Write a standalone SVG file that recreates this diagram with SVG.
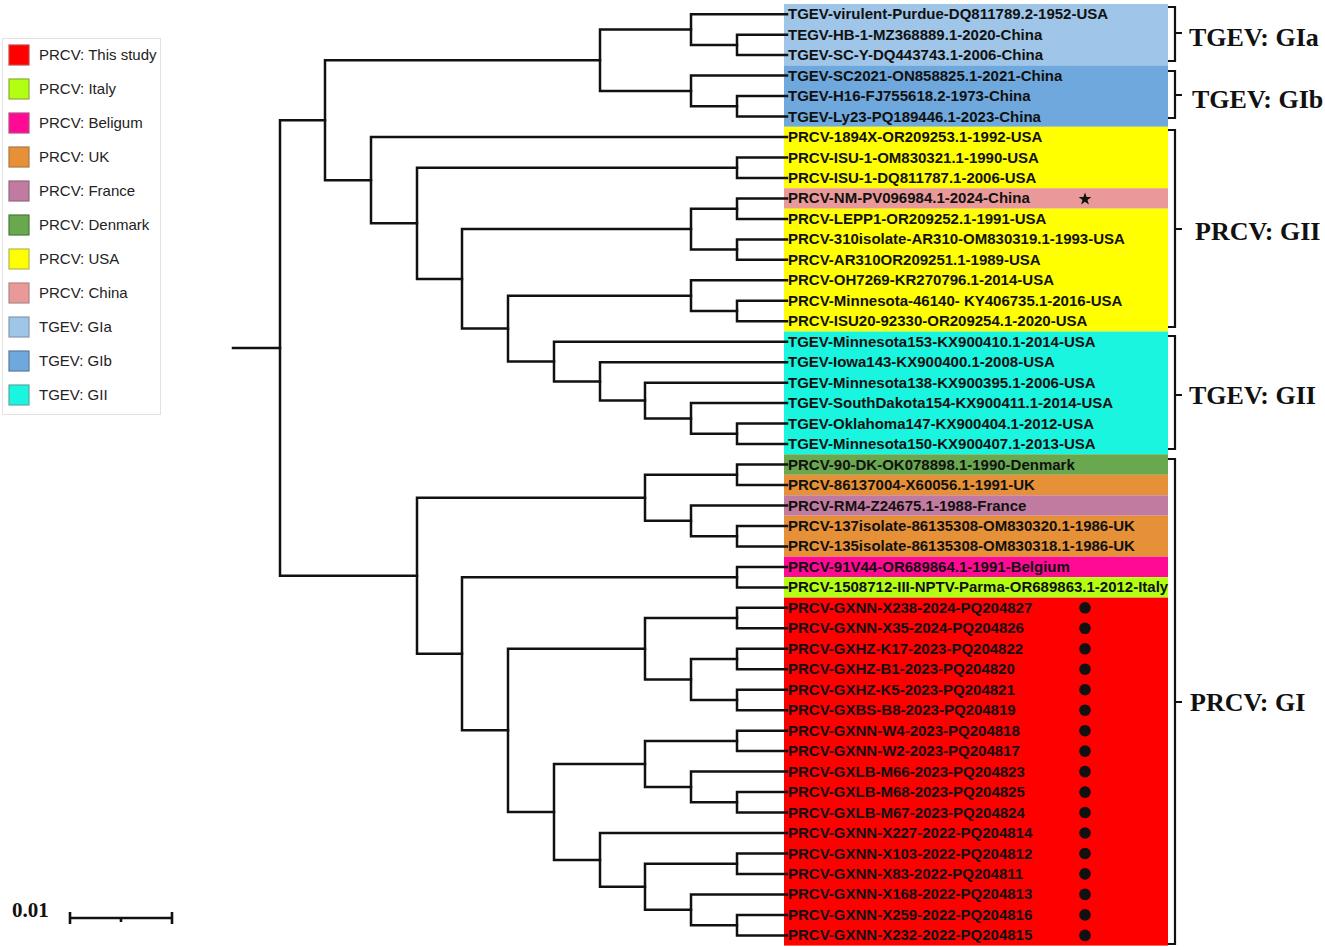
<svg xmlns="http://www.w3.org/2000/svg" width="1325" height="950" viewBox="0 0 1325 950">
<style>
.lbl{font-family:"Liberation Sans",Arial,sans-serif;font-weight:bold;font-size:15px;fill:#111}
.leg{font-family:"Liberation Sans",Arial,sans-serif;font-size:15px;fill:#222}
.grp{font-family:"Liberation Serif","Times New Roman",serif;font-weight:bold;font-size:26px;fill:#111}
.br{fill:none;stroke:#111;stroke-width:2.2}
.tree path{fill:none;stroke:#111;stroke-width:2.5;stroke-linecap:square}
.sw{stroke-width:1.2}
</style>
<rect width="1325" height="950" fill="#fff"/>
<g id="legend">
<rect x="2.5" y="38.5" width="158" height="376" fill="#fff" stroke="#e2e2e2"/>
<rect class="sw" x="9" y="45" width="20" height="20" fill="#ff0000" stroke="#c44"/><text class="leg" x="39" y="60">PRCV: This study</text>
<rect class="sw" x="9" y="79" width="20" height="20" fill="#b3ff14" stroke="#8aab3c"/><text class="leg" x="39" y="94">PRCV: Italy</text>
<rect class="sw" x="9" y="113" width="20" height="20" fill="#ff0a94" stroke="#b84a80"/><text class="leg" x="39" y="128">PRCV: Beligum</text>
<rect class="sw" x="9" y="147" width="20" height="20" fill="#e69138" stroke="#a8774a"/><text class="leg" x="39" y="162">PRCV: UK</text>
<rect class="sw" x="9" y="181" width="20" height="20" fill="#c27ba0" stroke="#8e6a7e"/><text class="leg" x="39" y="196">PRCV: France</text>
<rect class="sw" x="9" y="215" width="20" height="20" fill="#6aa84f" stroke="#4a7a3a"/><text class="leg" x="39" y="230">PRCV: Denmark</text>
<rect class="sw" x="9" y="249" width="20" height="20" fill="#ffff00" stroke="#b5b55a"/><text class="leg" x="39" y="264">PRCV: USA</text>
<rect class="sw" x="9" y="283" width="20" height="20" fill="#ea9999" stroke="#a88"/><text class="leg" x="39" y="298">PRCV: China</text>
<rect class="sw" x="9" y="317" width="20" height="20" fill="#9fc5e8" stroke="#8898a8"/><text class="leg" x="39" y="332">TGEV: GIa</text>
<rect class="sw" x="9" y="351" width="20" height="20" fill="#6fa8dc" stroke="#5a7a98"/><text class="leg" x="39" y="366">TGEV: GIb</text>
<rect class="sw" x="9" y="385" width="20" height="20" fill="#1af5e0" stroke="#5aa8a0"/><text class="leg" x="39" y="400">TGEV: GII</text>
</g>
<g id="bands">
<rect x="784" y="3.97" width="384" height="61.41" fill="#9fc5e8"/>
<rect x="784" y="65.38" width="384" height="61.41" fill="#6fa8dc"/>
<rect x="784" y="126.79" width="384" height="61.41" fill="#ffff00"/>
<rect x="784" y="188.2" width="384" height="20.47" fill="#ea9999"/>
<rect x="784" y="208.67" width="384" height="122.82" fill="#ffff00"/>
<rect x="784" y="331.49" width="384" height="122.82" fill="#1af5e0"/>
<rect x="784" y="454.31" width="384" height="20.47" fill="#6aa84f"/>
<rect x="784" y="474.78" width="384" height="20.47" fill="#e69138"/>
<rect x="784" y="495.25" width="384" height="20.47" fill="#c27ba0"/>
<rect x="784" y="515.72" width="384" height="40.94" fill="#e69138"/>
<rect x="784" y="556.66" width="384" height="20.47" fill="#ff0a94"/>
<rect x="784" y="577.13" width="384" height="20.47" fill="#b3ff14"/>
<rect x="784" y="597.6" width="384" height="348" fill="#ff0000"/>
</g>
<g id="connectors" class="tree">
<path d="M233 348H280"/>
<path d="M325 120.25H280V575.8H417"/>
<path d="M787 34.7H737V55.1H787"/>
<path d="M787 14.2H691V44.9H737"/>
<path d="M787 96.1H737V116.6H787"/>
<path d="M787 75.6H691V106.35H737"/>
<path d="M691 29.6H600V90.98H691"/>
<path d="M787 157.5H737V178H787"/>
<path d="M787 198.4H737V218.9H787"/>
<path d="M787 239.4H737V259.8H787"/>
<path d="M737 208.65H691V249.6H737"/>
<path d="M787 300.8H737V321.3H787"/>
<path d="M787 280.3H691V311.05H737"/>
<path d="M787 423.6H737V444.1H787"/>
<path d="M787 403.1H691V433.85H737"/>
<path d="M787 382.7H645V418.5H691"/>
<path d="M787 362.2H600V400.6H645"/>
<path d="M787 341.7H554V381.4H600"/>
<path d="M691 295.7H508V361.55H554"/>
<path d="M691 229.1H462V328.6H508"/>
<path d="M737 167.75H417V278.9H462"/>
<path d="M787 137H371V223.3H417"/>
<path d="M600 60.3H325V180.2H371"/>
<path d="M787 464.5H737V485H787"/>
<path d="M787 526H737V546.4H787"/>
<path d="M787 505.5H691V536.2H737"/>
<path d="M737 474.75H645V520.85H691"/>
<path d="M787 566.9H737V587.4H787"/>
<path d="M787 607.8H737V628.3H787"/>
<path d="M787 648.8H737V669.2H787"/>
<path d="M787 689.7H737V710.2H787"/>
<path d="M737 659H691V699.95H737"/>
<path d="M737 618.05H645V679.5H691"/>
<path d="M787 730.7H737V751.1H787"/>
<path d="M787 792.1H737V812.5H787"/>
<path d="M787 771.6H691V802.3H737"/>
<path d="M737 740.9H645V786.95H691"/>
<path d="M787 853.5H737V873.9H787"/>
<path d="M787 914.9H737V935.4H787"/>
<path d="M787 894.4H691V925.15H737"/>
<path d="M737 863.7H645V909.8H691"/>
<path d="M787 833H600V886.75H645"/>
<path d="M645 763.9H554V859.9H600"/>
<path d="M645 648.8H508V811.9H554"/>
<path d="M737 577.15H462V730.35H508"/>
<path d="M645 497.8H417V653.75H462"/>
</g>
<g id="labels">
<text class="lbl" x="788" y="19.2">TGEV-virulent-Purdue-DQ811789.2-1952-USA</text>
<text class="lbl" x="788" y="39.7">TEGV-HB-1-MZ368889.1-2020-China</text>
<text class="lbl" x="788" y="60.1">TGEV-SC-Y-DQ443743.1-2006-China</text>
<text class="lbl" x="788" y="80.6">TGEV-SC2021-ON858825.1-2021-China</text>
<text class="lbl" x="788" y="101.1">TGEV-H16-FJ755618.2-1973-China</text>
<text class="lbl" x="788" y="121.6">TGEV-Ly23-PQ189446.1-2023-China</text>
<text class="lbl" x="788" y="142">PRCV-1894X-OR209253.1-1992-USA</text>
<text class="lbl" x="788" y="162.5">PRCV-ISU-1-OM830321.1-1990-USA</text>
<text class="lbl" x="788" y="183">PRCV-ISU-1-DQ811787.1-2006-USA</text>
<text class="lbl" x="788" y="203.4">PRCV-NM-PV096984.1-2024-China</text>
<text class="lbl" x="788" y="223.9">PRCV-LEPP1-OR209252.1-1991-USA</text>
<text class="lbl" x="788" y="244.4">PRCV-310isolate-AR310-OM830319.1-1993-USA</text>
<text class="lbl" x="788" y="264.8">PRCV-AR310OR209251.1-1989-USA</text>
<text class="lbl" x="788" y="285.3">PRCV-OH7269-KR270796.1-2014-USA</text>
<text class="lbl" x="788" y="305.8">PRCV-Minnesota-46140- KY406735.1-2016-USA</text>
<text class="lbl" x="788" y="326.3">PRCV-ISU20-92330-OR209254.1-2020-USA</text>
<text class="lbl" x="788" y="346.7">TGEV-Minnesota153-KX900410.1-2014-USA</text>
<text class="lbl" x="788" y="367.2">TGEV-Iowa143-KX900400.1-2008-USA</text>
<text class="lbl" x="788" y="387.7">TGEV-Minnesota138-KX900395.1-2006-USA</text>
<text class="lbl" x="788" y="408.1">TGEV-SouthDakota154-KX900411.1-2014-USA</text>
<text class="lbl" x="788" y="428.6">TGEV-Oklahoma147-KX900404.1-2012-USA</text>
<text class="lbl" x="788" y="449.1">TGEV-Minnesota150-KX900407.1-2013-USA</text>
<text class="lbl" x="788" y="469.5">PRCV-90-DK-OK078898.1-1990-Denmark</text>
<text class="lbl" x="788" y="490">PRCV-86137004-X60056.1-1991-UK</text>
<text class="lbl" x="788" y="510.5">PRCV-RM4-Z24675.1-1988-France</text>
<text class="lbl" x="788" y="531">PRCV-137isolate-86135308-OM830320.1-1986-UK</text>
<text class="lbl" x="788" y="551.4">PRCV-135isolate-86135308-OM830318.1-1986-UK</text>
<text class="lbl" x="788" y="571.9">PRCV-91V44-OR689864.1-1991-Belgium</text>
<text class="lbl" x="788" y="592.4">PRCV-1508712-III-NPTV-Parma-OR689863.1-2012-Italy</text>
<text class="lbl" x="788" y="612.8">PRCV-GXNN-X238-2024-PQ204827</text>
<text class="lbl" x="788" y="633.3">PRCV-GXNN-X35-2024-PQ204826</text>
<text class="lbl" x="788" y="653.8">PRCV-GXHZ-K17-2023-PQ204822</text>
<text class="lbl" x="788" y="674.2">PRCV-GXHZ-B1-2023-PQ204820</text>
<text class="lbl" x="788" y="694.7">PRCV-GXHZ-K5-2023-PQ204821</text>
<text class="lbl" x="788" y="715.2">PRCV-GXBS-B8-2023-PQ204819</text>
<text class="lbl" x="788" y="735.7">PRCV-GXNN-W4-2023-PQ204818</text>
<text class="lbl" x="788" y="756.1">PRCV-GXNN-W2-2023-PQ204817</text>
<text class="lbl" x="788" y="776.6">PRCV-GXLB-M66-2023-PQ204823</text>
<text class="lbl" x="788" y="797.1">PRCV-GXLB-M68-2023-PQ204825</text>
<text class="lbl" x="788" y="817.5">PRCV-GXLB-M67-2023-PQ204824</text>
<text class="lbl" x="788" y="838">PRCV-GXNN-X227-2022-PQ204814</text>
<text class="lbl" x="788" y="858.5">PRCV-GXNN-X103-2022-PQ204812</text>
<text class="lbl" x="788" y="878.9">PRCV-GXNN-X83-2022-PQ204811</text>
<text class="lbl" x="788" y="899.4">PRCV-GXNN-X168-2022-PQ204813</text>
<text class="lbl" x="788" y="919.9">PRCV-GXNN-X259-2022-PQ204816</text>
<text class="lbl" x="788" y="940.4">PRCV-GXNN-X232-2022-PQ204815</text>
</g>
<g id="markers" fill="#111">
<polygon points="1085,192.4 1086.6,196.9 1091.3,197 1087.5,199.9 1088.9,204.4 1085,201.7 1081.1,204.4 1082.5,199.9 1078.7,197 1083.4,196.9"/>
<circle cx="1085" cy="607.8" r="5.8"/>
<circle cx="1085" cy="628.3" r="5.8"/>
<circle cx="1085" cy="648.8" r="5.8"/>
<circle cx="1085" cy="669.2" r="5.8"/>
<circle cx="1085" cy="689.7" r="5.8"/>
<circle cx="1085" cy="710.2" r="5.8"/>
<circle cx="1085" cy="730.7" r="5.8"/>
<circle cx="1085" cy="751.1" r="5.8"/>
<circle cx="1085" cy="771.6" r="5.8"/>
<circle cx="1085" cy="792.1" r="5.8"/>
<circle cx="1085" cy="812.5" r="5.8"/>
<circle cx="1085" cy="833" r="5.8"/>
<circle cx="1085" cy="853.5" r="5.8"/>
<circle cx="1085" cy="873.9" r="5.8"/>
<circle cx="1085" cy="894.4" r="5.8"/>
<circle cx="1085" cy="914.9" r="5.8"/>
<circle cx="1085" cy="935.4" r="5.8"/>
</g>
<g id="clade-TGEV-GIa">
<path class="br" d="M1168 7H1175V33H1182M1175 33V61H1168"/>
<text class="grp" x="1189" y="46">TGEV: GIa</text>
</g>
<g id="clade-TGEV-GIb">
<path class="br" d="M1168 71H1175V95H1182M1175 95V118H1168"/>
<text class="grp" x="1192" y="108">TGEV: GIb</text>
</g>
<g id="clade-PRCV-GII">
<path class="br" d="M1168 130H1175V229H1182M1175 229V327H1168"/>
<text class="grp" x="1195" y="240">PRCV: GII</text>
</g>
<g id="clade-TGEV-GII">
<path class="br" d="M1168 336H1175V395H1182M1175 395V449H1168"/>
<text class="grp" x="1189" y="404">TGEV: GII</text>
</g>
<g id="clade-PRCV-GI">
<path class="br" d="M1168 459H1175V702H1182M1175 702V944H1168"/>
<text class="grp" x="1190" y="711">PRCV: GI</text>
</g>
<g id="scale">
<text x="12" y="917" style="font-family:'Liberation Serif','Times New Roman',serif;font-weight:bold;font-size:21px;fill:#111">0.01</text>
<path d="M70 918H172M70 912V924M172 912V924M121 918V922" fill="none" stroke="#111" stroke-width="2.6"/>
</g>
</svg>
